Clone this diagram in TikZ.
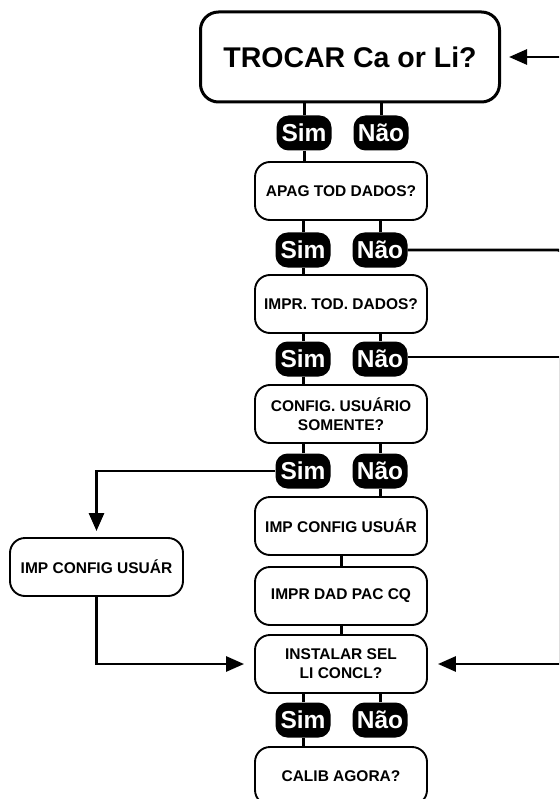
\documentclass[tikz,border=0pt]{standalone}
\usepackage{fontspec}
\setmainfont{Liberation Sans}
\usetikzlibrary{arrows.meta}
\begin{document}
\begin{tikzpicture}[x=1pt,y=-1pt,
  menubox/.style={draw, line width=1.9pt, rounded corners=15pt,
    minimum width=172pt, minimum height=58pt, align=center,
    inner sep=2pt, font=\bfseries\fontsize{15.5}{19}\selectfont},
  pill/.style={fill=black, text=white, rounded corners=12pt,
    minimum width=55pt, minimum height=35pt, inner sep=1pt,
    font=\bfseries\fontsize{24.5}{24.5}\selectfont},
  stub/.style={line width=3pt},
  flow/.style={line width=2.8pt, -{Triangle[length=18pt,width=15pt]}},
  plain/.style={line width=2.8pt}]
\useasboundingbox (0,0) rectangle (559,799);
\clip (0,0) rectangle (559,799);

% main question
\node[draw, line width=3pt, rounded corners=18pt, minimum width=299pt,
  minimum height=90pt, font=\bfseries\fontsize{28.5}{31}\selectfont]
  (trocar) at (350,57) {TROCAR Ca or Li?};

% answer pills, one row under each question
\node[pill] (s1) at (304,133) {Sim};
\node[pill] (n1) at (381,133) {Não};
\node[menubox] (apag) at (341,191) {APAG TOD DADOS?};
\node[pill] (s2) at (303,250) {Sim};
\node[pill] (n2) at (380,250) {Não};
\node[menubox] (impr) at (341,304) {IMPR. TOD. DADOS?};
\node[pill] (s3) at (303,359) {Sim};
\node[pill] (n3) at (380,359) {Não};
\node[menubox] (config) at (341,414) {CONFIG. USUÁRIO\\SOMENTE?};
\node[pill] (s4) at (303,471) {Sim};
\node[pill] (n4) at (380,471) {Não};
\node[menubox] (impc) at (341,526) {IMP CONFIG USUÁR};
\node[menubox] (dad) at (341,596) {IMPR DAD PAC CQ};
\node[menubox] (inst) at (341,664) {INSTALAR SEL\\LI CONCL?};
\node[pill] (s5) at (303,720) {Sim};
\node[pill] (n5) at (380,720) {Não};
\node[menubox] (calib) at (341,776) {CALIB AGORA?};

% side branch
\node[menubox, minimum width=173pt] (limpc) at (96.5,567) {IMP CONFIG USUÁR};

% stubs between boxes and pills
\foreach \b/\s/\n in {trocar/s1/n1, apag/s2/n2, impr/s3/n3, config/s4/n4, inst/s5/n5}{
  \draw[stub] (\s.north) -- (\s.north |- \b.south);
  \draw[stub] (\n.north) -- (\n.north |- \b.south);
}
\draw[stub] (s1.south) -- (s1.south |- apag.north);
\draw[stub] (s2.south) -- (s2.south |- impr.north);
\draw[stub] (s3.south) -- (s3.south |- config.north);
\draw[stub] (n4.south) -- (n4.south |- impc.north);
\draw[stub] (impc) -- (dad);
\draw[stub] (dad) -- (inst);
\draw[stub] (s5.south) -- (s5.south |- calib.north);

% incoming arrow at the top
\coordinate (topin) at (562,57);
\draw[flow, shorten >=8pt] (topin) -- (trocar.east);

% branches on the right
\coordinate (rc2) at (562,250);
\coordinate (rc3) at (559.9,357);
\draw[plain, rounded corners=4pt] (n2.east) -- (rc2) -- ++(0,20);
\draw[flow, shorten >=10pt] (n3.east |- rc3) -- (rc3) |- (inst.east);

% branch on the left
\draw[flow, shorten >=6pt] (s4.west) -| (limpc.north);
\draw[flow, shorten >=10pt] (limpc.south) |- (inst.west);
\end{tikzpicture}
\end{document}
